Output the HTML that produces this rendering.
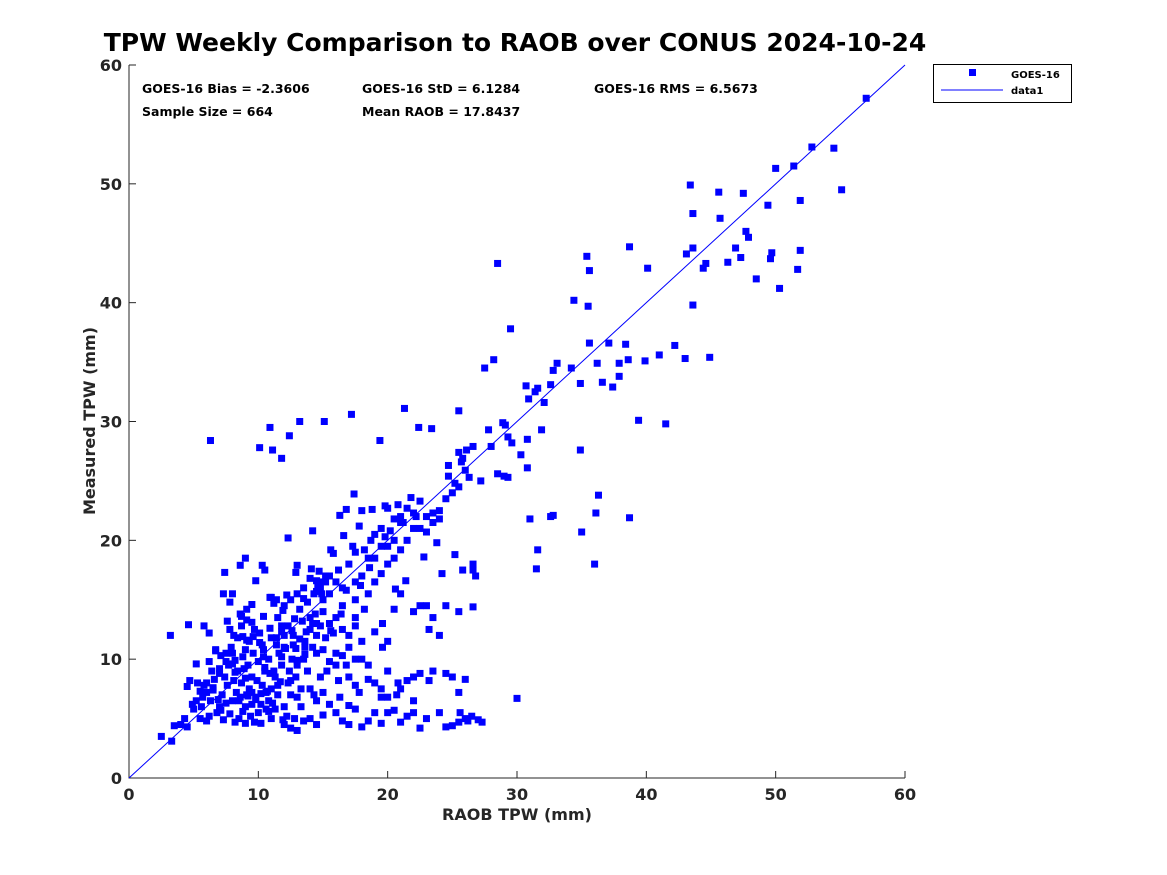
<!DOCTYPE html>
<html><head><meta charset="utf-8"><style>
body{margin:0;background:#fff;}
svg{display:block;font-family:"DejaVu Sans","Liberation Sans",sans-serif;}
</style></head><body>
<svg id="chart" width="1167" height="875" viewBox="0 0 1167 875" xmlns="http://www.w3.org/2000/svg">
<rect width="1167" height="875" fill="#fff"/>
<text x="515" y="51" text-anchor="middle" font-size="25" font-weight="bold">TPW Weekly Comparison to RAOB over CONUS 2024-10-24</text>
<g id="axes"></g>
<g id="points"></g>
<g font-size="12.5" font-weight="bold">
<text x="142" y="93">GOES-16 Bias = -2.3606</text>
<text x="362" y="93">GOES-16 StD = 6.1284</text>
<text x="594" y="93">GOES-16 RMS = 6.5673</text>
<text x="142" y="116">Sample Size = 664</text>
<text x="362" y="116">Mean RAOB = 17.8437</text>
</g>
<g>
<rect x="933.5" y="64.5" width="138" height="38" fill="#fff" stroke="#000" stroke-width="1"/>
<rect x="969" y="69" width="7" height="7" fill="#0000ff"/>
<text x="1011" y="78" font-size="10" font-weight="bold">GOES-16</text>
<line x1="941" y1="90" x2="1003" y2="90" stroke="#0000ff" stroke-width="1"/>
<text x="1011" y="94" font-size="10" font-weight="bold">data1</text>
</g>
<text x="517" y="820" text-anchor="middle" font-size="16" font-weight="bold" fill="#262626">RAOB TPW (mm)</text>
<text transform="translate(95,421) rotate(-90)" text-anchor="middle" font-size="16" font-weight="bold" fill="#262626">Measured TPW (mm)</text>
</svg>
<script>
const xTicks=[0,10,20,30,40,50,60];
const yTicks=[0,10,20,30,40,50,60];
const raobX=[57,54.5,52.8,51.4,50,51.9,55.1,49.4,43.4,45.6,47.5,45.7,43.6,49.7,49.6,47.7,47.9,46.9,43.6,43.1,44.6,44.4,46.3,47.3,51.9,51.7,48.5,50.3,43.6,38.7,40.1,35.4,35.6,28.5,34.4,35.5,29.5,43,44.9,41,42.2,39.9,38.4,37.1,35.6,36.2,38.6,37.9,37.9,36.6,37.4,34.9,34.2,33.1,32.8,30.7,31.4,31.6,32.6,32.1,30.9,31.9,28.2,27.5,39.4,41.5,34.9,28.9,29.1,29.3,29.6,30.8,30.3,30.8,27.8,28,26.6,26.1,25.5,25.8,25.7,26,26.3,24.7,24.7,25.2,27.2,29,29.3,28.5,25.5,17.2,15.1,13.2,10.9,21.3,22.4,23.4,19.4,6.3,12.4,10.1,11.1,11.8,17.4,16.8,16.3,12.3,14.2,15.6,17.3,9,8.6,10.3,10.5,7.4,13,12.9,14.1,14.7,15.2,14.5,14.5,14.9,13.5,9.8,8,7.3,10.9,11.4,9.5,9.1,8.6,10.4,11.9,11.8,9.5,9.1,7.6,5.8,4.6,3.2,6.2,7.8,8.1,8.8,8.2,6.7,7.1,6.2,5.2,9.1,10.1,11.4,12.1,12.9,13.6,
35,32.6,32.8,31.5,36,36.3,38.7,36.1,31,31.6,
18,19,20,20.5,21,21.5,22,22.5,23,23.5,24,24.5,25,25.5,20,20.5,19.5,19,18.5,18,17.5,17.5,16.5,16,15.5,15,15,14.5,14,14.5,15.5,16,16.5,17.5,17.5,18.5,19,19.5,20,20.5,21,21.5,22,22.5,23,23.5,24,21,20.8,21.2,22.2,19.5,18.7,18.2,17.5,17,16.8,16.2,15.5,15.2,14.8,14.3,13.8,19.8,20.2,18.6,17.9,19.6,20.5,20,19.6,21,22,22.5,23.5,23,24.5,25.5,25.8,26.6,26.6,26.8,26.6,24,23.2,19,18,17,16.5,15.8,15.2,14.8,14,13.2,12.8,12.3,12,11.5,11,11.2,12.5,13,13.5,14,14.7,11.8,12.7,13.2,13.7,14.2,14.5,15,15.5,16,16.5,17,16.2,17,17.5,18.5,19,19.5,20,20.8,21.5,22,22.5,23.2,23.5,24.5,25,26,25.5,22,21,20,18.5,18,17.5,16,
12,12.5,13,13.5,14,14.5,15,16,16.5,17,17.5,18,18.5,19,19.5,20,20.5,21,21.5,22,22.5,23,24,25,25.5,26,26.5,27,27.3,25.6,24.5,26.2,30,12.8,13.3,14.5,15.5,16.3,17,17.8,19.5,20.7,13,14,15,12.5,
2.5,3.3,3.5,4,4.5,4.3,5,5.5,4.5,4.7,5.3,5.8,6,6.3,6.5,6.8,7,7.2,7.5,7.8,8,8.3,8.5,8.7,9,9.3,9.5,9.8,10,10.3,10.5,10.8,11,11.3,11.5,11.8,12,12.3,12.6,13,13.3,5.2,5.7,6.2,6.6,7,7.4,7.7,8,8.4,8.8,9.2,9.6,10,10.4,10.8,11.2,11.6,12,12.4,8.2,9,9.7,10.2,11.3,6,7.3,8.8,9.4,10.6,11.9,12.2,7.6,8.1,8.6,9.1,9.9,10.7,11.1,6.9,5.5,4.9,6.4,7.9,9.3,10.1,11,12.7,13.5,8.7,9.7,10.9,6,5.6,7.1,8.9,9.5,10.2,12.9,13.8,14.3,14.8,15.3,16.8,11.7,10.9,8.4,9,10.3,7.5,6.7,12,13.6,14.2,
8.5,9.5,10.2,11,7,8,9,10.5,11.5,12.5,6.5,7.5,8.2,9.2,10.8,11.8,13,9.8,10.6,8.7,7.8,12.2,13.4,14.6,15.8,16.6,17.8,18.8,19.8,21.8,22.8,23.8,24.2,25.2,21.4,20.6,18.2,16.4,15.6,14.4,13.6,12.6,11.4,10.4,9.6,8.6];
const goesY=[57.2,53,53.1,51.5,51.3,48.6,49.5,48.2,49.9,49.3,49.2,47.1,47.5,44.2,43.7,46,45.5,44.6,44.6,44.1,43.3,42.9,43.4,43.8,44.4,42.8,42,41.2,39.8,44.7,42.9,43.9,42.7,43.3,40.2,39.7,37.8,35.3,35.4,35.6,36.4,35.1,36.5,36.6,36.6,34.9,35.2,34.9,33.8,33.3,32.9,33.2,34.5,34.9,34.3,33,32.5,32.8,33.1,31.6,31.9,29.3,35.2,34.5,30.1,29.8,27.6,29.9,29.7,28.7,28.2,28.5,27.2,26.1,29.3,27.9,27.9,27.6,27.4,26.9,26.6,25.9,25.3,26.3,25.4,24.8,25,25.4,25.3,25.6,30.9,30.6,30,30,29.5,31.1,29.5,29.4,28.4,28.4,28.8,27.8,27.6,26.9,23.9,22.6,22.1,20.2,20.8,19.2,19.5,18.5,17.9,17.9,17.5,17.3,17.9,17.3,17.6,17.4,17,16.6,15.7,15.5,15.1,16.6,15.5,15.5,15.2,15,14.6,14.2,13.8,13.6,14.1,12.8,13.1,13.3,13.2,12.8,12.9,12,12.2,12.5,12,11.9,9.9,10.7,10.3,9.8,9.6,11.6,11.4,11.2,10.9,10.9,11,
20.7,22,22.1,17.6,18,23.8,21.9,22.3,21.8,19.2,
22.5,20.5,22.7,21.8,21.5,22.7,22.3,23.3,22,21.5,22.5,23.5,24,24.5,19.5,20,19.5,18.5,18.5,17,16.5,15,16,16.5,15.5,15,14,13,12.5,12,13,13.5,14.5,13.5,12.8,15.5,16.5,17.2,18,18.5,19.2,20,21,21,20.7,22.3,21.8,22,23,21.5,22,21,20,19.2,19,18,15.8,17.5,17,16.5,16,15.5,14.8,20.3,20.8,17.7,16.2,13,14.2,11.5,11,15.5,14,14.5,13.5,14.5,14.5,14,17.5,17.5,18,17,14.4,12,12.5,12.3,11.5,12,12.5,12.2,11.8,12.8,13.5,14.2,13.4,12.8,14.5,13.5,15.2,14.7,15,15.5,16,16.8,16.5,12.3,12,11.7,12.3,11,10.5,10.8,9.8,9.5,10.3,11,8.2,8.5,7.8,8.3,8,7.5,6.8,8,8.2,8.5,8.8,8.2,9,8.8,8.5,8.3,7.2,6.5,7.5,9,9.5,10,10,10.5,
4.5,4.2,4,4.8,5,4.5,5.3,5.5,4.8,4.5,5.8,4.3,4.8,5.5,4.6,5.5,5.7,4.7,5.2,5.5,4.2,5,5.5,4.4,4.7,5,5.2,4.9,4.7,5.5,4.3,4.8,6.7,5,6,6.5,6.2,6.8,6.1,7.2,6.8,7,6.8,7.5,7.2,7,
3.5,3.1,4.4,4.5,4.3,5,5.8,5,7.7,8.2,8,7.8,7.2,6.5,7.6,5.5,6,7,6.3,5.4,6.5,7.2,5,8,6,7.5,8.5,6.8,5.5,7.8,9,6.5,5,8.5,7,9.5,6,8,10,9.5,7.5,6.5,6.8,5.2,8.3,9.2,8.5,9.5,10.5,9,10.2,9.5,10.5,9.8,10.8,10,9,10.5,11,9,4.7,4.6,4.7,4.6,5.8,4.8,4.9,5.6,5.2,5.8,4.9,5.2,7.8,8.2,6.8,7,8.2,7.3,6.3,6.6,7.3,6.2,9,11,11.5,12.2,11.8,11.2,10,12.8,12.5,12.6,8,6,5.7,9.2,6.2,7.1,8.5,9,7,8.5,9,9.5,8.1,8.8,11.8,10.8,11.2,10.5,10.8,12,11.5,13,
6.5,7.2,6.2,7.5,8.8,9.6,8.4,9.3,7.8,8.2,7.4,9.8,8.9,6.9,5.6,10.2,9.9,6.6,7.2,13.6,14.8,15.4,13.2,16.2,18.9,20.4,21.2,22.6,22.9,23.6,18.6,19.8,17.2,18.8,16.6,15.9,14.2,13.8,12.4,13.8,10.4,12.4,11.8,10.2,11.9];
const X0=129,X1=905,Y0=778,Y1=65;
const xs=v=>X0+(v-0)/60*(X1-X0);
const ys=v=>Y0-(v-0)/60*(Y0-Y1);
const NS='http://www.w3.org/2000/svg';
const ax=document.getElementById('axes');
function mk(t,a,p){const e=document.createElementNS(NS,t);for(const k in a)e.setAttribute(k,a[k]);p.appendChild(e);return e;}
const box=mk('path',{d:`M${X0},${Y1}V${Y0}H${X1}`,fill:'none',stroke:'#262626','stroke-width':1},ax);


xTicks.forEach(t=>{
 const l=mk('line',{x1:xs(t),x2:xs(t),y1:Y0,y2:Y0-7,stroke:'#262626'},ax);
 
 
 const tx=mk('text',{x:xs(t),y:Y0+22,'text-anchor':'middle','font-size':16,'font-weight':'bold',fill:'#262626'},ax);
 tx.textContent=t;
 
 
});
yTicks.forEach(t=>{
 const l=mk('line',{x1:X0,x2:X0+7,y1:ys(t),y2:ys(t),stroke:'#262626'},ax);
 
 
 const tx=mk('text',{x:X0-7,y:ys(t)+6,'text-anchor':'end','font-size':16,'font-weight':'bold',fill:'#262626'},ax);
 tx.textContent=t;
 
 
});
const one=mk('line',{x1:xs(0),y1:ys(0),x2:xs(60),y2:ys(60),stroke:'#0000ff','stroke-width':1},ax);


const pg=document.getElementById('points');
const n=Math.min(raobX.length,goesY.length);
for(let i=0;i<n;i++){
 const r=mk('rect',{x:xs(raobX[i])-3.5,y:ys(goesY[i])-3.5,width:7,height:7,fill:'#0000ff'},pg);
 
 
}
</script>
</body></html>
